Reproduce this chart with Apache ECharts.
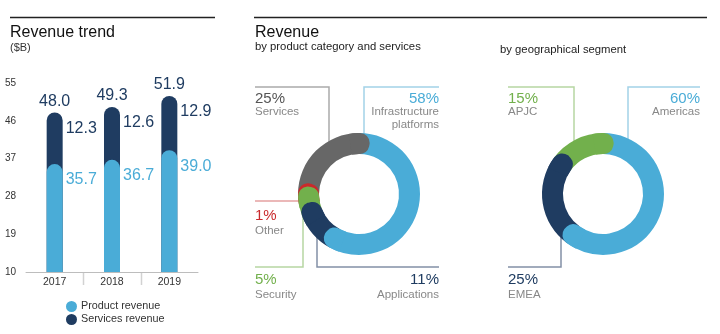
<!DOCTYPE html>
<html><head><meta charset="utf-8">
<script src="https://cdn.jsdelivr.net/npm/echarts@6/dist/echarts.min.js"></script>
<style>html,body{margin:0;padding:0;background:#fff}#c{width:720px;height:334px}</style>
</head><body><div id="c"></div>
<script>
// ---- data ----
const years = ['2017', '2018', '2019'];
const productRevenue = [35.7, 36.7, 39.0];
const servicesRevenue = [12.3, 12.6, 12.9];
const yTicks = [10, 19, 28, 37, 46, 55];
const categoryNames = ['Infrastructure platforms', 'Applications', 'Security', 'Other', 'Services'];
const categoryShares = [58, 11, 5, 1, 25];
const geoNames = ['Americas', 'EMEA', 'APJC'];
const geoShares = [60, 25, 15];

// ---- styles ----
const FONT = '"Liberation Sans", Arial, sans-serif';
const C = { blue: '#4aacd7', navy: '#1f3c61', green: '#72b04c', red: '#c92a2c', gray: '#676767', text: '#222', sub: '#888' };
const categoryColors = [C.blue, C.navy, C.green, C.red, C.gray];
const geoColors = [C.blue, C.navy, C.green];

const totalRevenue = productRevenue.map((p, i) => Math.round((p + servicesRevenue[i]) * 10) / 10);

function donut(center, shares, colors) {
  const R0 = 40, R = 61, half = (R - R0) / 2, mid = (R + R0) / 2;
  const capDeg = Math.asin(half / mid) * 180 / Math.PI;
  const back = 10;
  const total = shares.reduce((a, b) => a + b, 0);
  const common = { type: 'pie', center: center, radius: [R0, R], clockwise: true, silent: true,
    label: { show: false }, labelLine: { show: false }, emphasis: { disabled: true } };
  const series = [Object.assign({}, common, {
    startAngle: 90, z: 2,
    data: shares.map((v, i) => ({ value: v, itemStyle: { color: colors[i] } }))
  })];
  let cum = 0;
  const ends = shares.map(v => (cum += v) / total * 360);
  for (let i = shares.length - 1; i >= 0; i--) {
    series.push(Object.assign({}, common, {
      startAngle: 90 - (ends[i] - back), z: 3,
      data: [
        { value: back + capDeg, itemStyle: { color: colors[i], borderRadius: [0, half, 0, half] } },
        { value: 360 - back - capDeg, itemStyle: { color: 'rgba(0,0,0,0)' } }
      ]
    }));
  }
  return series;
}

function txt(x, y, text, size, color, align) {
  return { type: 'text', x: x, y: y, z: 10, silent: true,
    style: { text: text, font: size + 'px ' + FONT, fill: color, align: align || 'left', verticalAlign: 'middle' } };
}
function poly(points, color) {
  return { type: 'polyline', z: 0, silent: true, shape: { points: points }, style: { stroke: color, lineWidth: 1.5, fill: null } };
}

const pct = v => v + '%';
const graphics = [
  { type: 'line', silent: true, shape: { x1: 10, y1: 17.5, x2: 215, y2: 17.5 }, style: { stroke: '#222', lineWidth: 1.3 } },
  { type: 'line', silent: true, shape: { x1: 254, y1: 17.5, x2: 707, y2: 17.5 }, style: { stroke: '#222', lineWidth: 1.3 } },
  txt(10, 32.5, 'Revenue trend', 16, '#111'),
  txt(10, 48, '($B)', 11, '#333'),
  txt(255, 32.5, 'Revenue', 16, '#111'),
  txt(255, 46.5, 'by product category and services', 11.3, '#222'),
  txt(500, 49.5, 'by geographical segment', 11.3, '#222'),
  // donut 1 callouts
  poly([[255, 87], [329, 87], [329, 145]], '#aaaaaa'),
  poly([[439, 87], [364, 87], [364, 140]], '#a3d2e8'),
  poly([[255, 201], [302, 201]], '#e4a0a0'),
  poly([[255, 267], [303, 267], [303, 214]], '#b6d6a2'),
  poly([[439, 267], [317, 267], [317, 234]], '#8390a6'),
  txt(255, 98.5, pct(categoryShares[4]), 15, '#555'),
  txt(255, 112, categoryNames[4], 11.5, C.sub),
  txt(439, 98.5, pct(categoryShares[0]), 15, C.blue, 'right'),
  txt(439, 112, 'Infrastructure', 11.5, C.sub, 'right'),
  txt(439, 125, 'platforms', 11.5, C.sub, 'right'),
  txt(255, 216, pct(categoryShares[3]), 15, C.red),
  txt(255, 230.5, categoryNames[3], 11.5, C.sub),
  txt(255, 280, pct(categoryShares[2]), 15, C.green),
  txt(255, 294.5, categoryNames[2], 11.5, C.sub),
  txt(439, 280, pct(categoryShares[1]), 15, C.navy, 'right'),
  txt(439, 294.5, categoryNames[1], 11.5, C.sub, 'right'),
  // donut 2 callouts
  poly([[508, 87], [574, 87], [574, 145]], '#b6d6a2'),
  poly([[700, 87], [628, 87], [628, 142]], '#a3d2e8'),
  poly([[508, 267], [561, 267], [561, 234]], '#8390a6'),
  txt(508, 98.5, pct(geoShares[2]), 15, C.green),
  txt(508, 112, geoNames[2], 11.5, C.sub),
  txt(700, 98.5, pct(geoShares[0]), 15, C.blue, 'right'),
  txt(700, 112, geoNames[0], 11.5, C.sub, 'right'),
  txt(508, 280, pct(geoShares[1]), 15, C.navy),
  txt(508, 294.5, geoNames[1], 11.5, C.sub)
];

const barCommon = { type: 'bar', barWidth: 16, barGap: '-100%', silent: true, emphasis: { disabled: true } };

const option = {
  animation: false,
  textStyle: { fontFamily: FONT },
  grid: { left: 26, right: 522, top: 83, bottom: 62 },
  legend: {
    data: ['Product revenue', 'Services revenue'], orient: 'vertical', left: 61, top: 296,
    icon: 'circle', itemWidth: 11, itemHeight: 11, itemGap: 2, selectedMode: false,
    textStyle: { fontSize: 10.8, color: '#333', padding: [0, 0, 0, -1] }
  },
  xAxis: {
    type: 'category', data: years,
    axisLine: { lineStyle: { color: '#bdbdbd', width: 1 } },
    axisTick: { show: false },
    axisLabel: { fontSize: 10.5, color: '#333', margin: 5 }
  },
  yAxis: {
    type: 'value', min: yTicks[0], max: yTicks[yTicks.length - 1], interval: yTicks[1] - yTicks[0],
    axisLine: { show: false }, axisTick: { show: false }, splitLine: { show: false },
    axisLabel: { fontSize: 10, color: '#333', margin: 5, align: 'left', padding: [0, 0, 0, -16] }
  },
  series: [
    Object.assign({}, barCommon, {
      name: 'Services revenue', data: totalRevenue, itemStyle: { color: C.navy, borderRadius: [8, 8, 0, 0] },
      label: { show: true, position: [19, 8], align: 'left', verticalAlign: 'top', fontSize: 16, color: C.navy,
        formatter: p => servicesRevenue[p.dataIndex].toFixed(1) }
    }),
    Object.assign({}, barCommon, {
      name: 'Product revenue', data: productRevenue, itemStyle: { color: C.blue, borderRadius: [8, 8, 0, 0] },
      label: { show: true, position: [19, 8], align: 'left', verticalAlign: 'top', fontSize: 16, color: C.blue,
        formatter: p => p.value.toFixed(1) }
    }),
    Object.assign({}, barCommon, {
      name: 'Total', data: totalRevenue, itemStyle: { color: 'rgba(0,0,0,0)' },
      label: { show: true, position: 'top', distance: 3, fontSize: 16, color: C.navy,
        formatter: p => p.value.toFixed(1) }
    })
  ].concat(donut([359, 194], categoryShares, categoryColors))
   .concat(donut([603, 194], geoShares, geoColors)),
  graphic: graphics
};

const chart = echarts.init(document.getElementById('c'), null, { renderer: 'canvas' });
chart.setOption(option);

// category separators below the x axis
const centers = years.map(y => chart.convertToPixel({ xAxisIndex: 0 }, y));
const baseY = chart.convertToPixel({ yAxisIndex: 0 }, yTicks[0]);
const seps = [];
for (let i = 1; i < centers.length; i++) {
  const x = Math.round((centers[i - 1] + centers[i]) / 2) + 0.5;
  seps.push({ type: 'line', silent: true, shape: { x1: x, y1: baseY, x2: x, y2: baseY + 13 }, style: { stroke: '#d2d2d2', lineWidth: 1.5 } });
}
chart.setOption({ graphic: graphics.concat(seps) });
</script></body></html>
